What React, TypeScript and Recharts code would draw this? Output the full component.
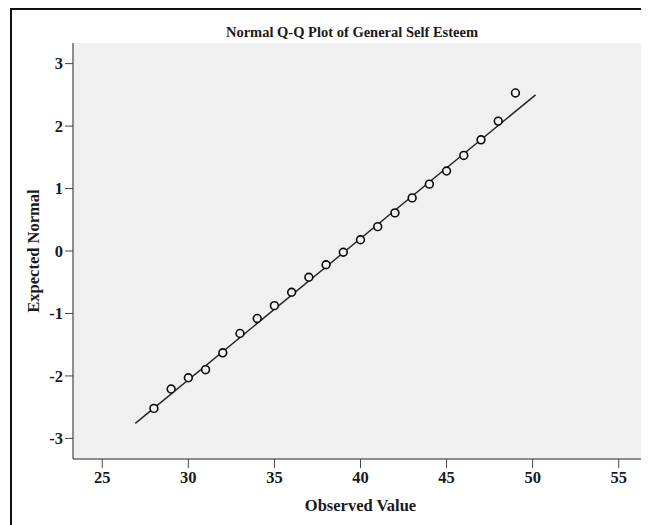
import React from "react"
import {
  ScatterChart,
  Scatter,
  XAxis,
  YAxis,
  CartesianGrid,
  ReferenceLine,
  Label,
} from "recharts"

// observed scores and their expected normal values
const observed = [28, 29, 30, 31, 32, 33, 34, 35, 36, 37, 38, 39, 40, 41, 42, 43, 44, 45, 46, 47, 48, 49]
const expected = [
  -2.52, -2.21, -2.03, -1.9, -1.63, -1.32, -1.08, -0.875, -0.66, -0.42, -0.22, -0.02, 0.18, 0.39, 0.61,
  0.85, 1.07, 1.28, 1.53, 1.78, 2.08, 2.53,
]

// reference line end points
const lineX = [26.92, 50.17]
const lineY = [-2.76, 2.5]

const xTicks = [25, 30, 35, 40, 45, 50, 55]
const yTicks = [-3, -2, -1, 0, 1, 2, 3]
const xDomain = [23.3, 56.7]
const yDomain = [-3.33, 3.33]

const points = observed.map((x, i) => ({ x, y: expected[i] }))

const FONT = "'Liberation Serif', 'Times New Roman', serif"
const textStyle = { fontFamily: FONT, fontSize: 16.5, fontWeight: 700, fill: "#1a1a1a" }

const Circle = (props: any) => {
  const { cx, cy } = props
  if (cx == null || cy == null) return <g />
  return <circle cx={cx} cy={cy} r={3.9} fill="#f3f3f3" stroke="#0a0a0a" strokeWidth={1.6} />
}

const XTick = (props: any) => {
  const { x, y, payload } = props
  return (
    <text x={x} y={y} dy="0.72em" textAnchor="middle" style={textStyle}>
      {payload.value}
    </text>
  )
}

const YTick = (props: any) => {
  const { x, y, payload } = props
  return (
    <text x={x} y={y} dy="0.35em" textAnchor="end" style={textStyle}>
      {payload.value}
    </text>
  )
}

export default function App() {
  return (
    <div style={{ position: "relative", width: 641, height: 517, overflow: "hidden" }}>
      <div
        style={{
          marginLeft: 2,
          width: 644,
          height: 530,
          border: "2px solid #111",
          background: "#fff",
        }}
      >
        <ScatterChart width={644} height={520} margin={{ top: 33, right: 8, bottom: 31, left: 11 }}>
          <CartesianGrid horizontal={false} vertical={false} fill="#f0f0f0" />
          <XAxis
            xAxisId="top"
            orientation="top"
            type="number"
            dataKey="x"
            domain={xDomain}
            allowDataOverflow
            height={0}
            tick={false}
            tickLine={false}
            axisLine={{ stroke: "#6a6a6a", strokeWidth: 1.5 }}
          />
          <YAxis
            yAxisId="right"
            orientation="right"
            type="number"
            dataKey="y"
            domain={yDomain}
            allowDataOverflow
            width={0}
            tick={false}
            tickLine={false}
            axisLine={{ stroke: "#6a6a6a", strokeWidth: 1.5 }}
          />
          <XAxis
            type="number"
            dataKey="x"
            domain={xDomain}
            ticks={xTicks}
            allowDataOverflow
            height={40}
            tickSize={9}
            tickMargin={3}
            tick={<XTick />}
            tickLine={{ stroke: "#444" }}
            axisLine={{ stroke: "#6a6a6a", strokeWidth: 1.5 }}
          >
            <Label
              content={(p: any) => {
                const vb = p.viewBox
                return (
                  <text x={vb.x + vb.width / 2} y={vb.y + 52} textAnchor="middle" style={textStyle}>
                    Observed Value
                  </text>
                )
              }}
            />
          </XAxis>
          <YAxis
            type="number"
            dataKey="y"
            domain={yDomain}
            ticks={yTicks}
            allowDataOverflow
            width={50}
            tickSize={8}
            tickMargin={2}
            tick={<YTick />}
            tickLine={{ stroke: "#444" }}
            axisLine={{ stroke: "#6a6a6a", strokeWidth: 1.5 }}
          >
            <Label
              content={(p: any) => {
                const vb = p.viewBox
                const cx = vb.x + 10
                const cy = vb.y + vb.height / 2
                return (
                  <text
                    x={cx}
                    y={cy}
                    transform={`rotate(-90, ${cx}, ${cy})`}
                    textAnchor="middle"
                    dominantBaseline="central"
                    style={textStyle}
                  >
                    Expected Normal
                  </text>
                )
              }}
            />
          </YAxis>
          <ReferenceLine
            segment={[
              { x: lineX[0], y: lineY[0] },
              { x: lineX[1], y: lineY[1] },
            ]}
            stroke="#222"
            strokeWidth={1.4}
          />
          <Scatter data={points} shape={Circle} isAnimationActive={false} />
        </ScatterChart>
      </div>
      <div
        style={{
          position: "absolute",
          left: 144,
          top: 16,
          width: 400,
          textAlign: "center",
          fontFamily: FONT,
          fontSize: 14.5,
          lineHeight: "16px",
          fontWeight: 700,
          color: "#1a1a1a",
        }}
      >
        Normal Q-Q Plot of General Self Esteem
      </div>
    </div>
  )
}
